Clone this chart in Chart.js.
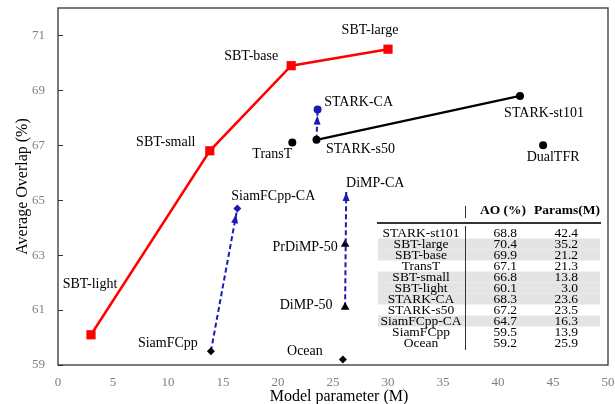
<!DOCTYPE html>
<html>
<head>
<meta charset="utf-8">
<script src="https://cdn.jsdelivr.net/npm/chart.js@4"></script>
<style>
    html, body { margin: 0; padding: 0; background: #fff; }
</style>
</head>
<body>
<canvas id="myChart" width="615" height="404"></canvas>
<script>
// values
var sbtNames = ['SBT-light', 'SBT-small', 'SBT-base', 'SBT-large'];
var sbtParams = [3.0, 13.8, 21.2, 30.0];
var sbtAO = [60.1, 66.8, 69.9, 70.5];

var starkNames = ['STARK-s50', 'STARK-st101'];
var starkParams = [23.5, 42.0];
var starkAO = [67.2, 68.8];

var starkCaNames = ['', 'STARK-CA'];
var starkCaParams = [23.5, 23.6];
var starkCaAO = [67.2, 68.3];

var siamNames = ['SiamFCpp', 'SiamFCpp-CA'];
var siamParams = [13.9, 16.3];
var siamAO = [59.5, 64.7];

var dimpNames = ['DiMP-50', 'DiMP-CA'];
var dimpParams = [26.1, 26.2];
var dimpAO = [61.1, 65.3];

var otherNames = ['TransT', 'DualTFR', 'PrDiMP-50', 'Ocean'];
var otherParams = [21.3, 44.1, 26.1, 25.9];
var otherAO = [67.1, 67.0, 63.4, 59.2];

var xTicks = [0, 5, 10, 15, 20, 25, 30, 35, 40, 45, 50];
var yTicks = [59, 61, 63, 65, 67, 69, 71];

var tableNames = ['STARK-st101', 'SBT-large', 'SBT-base', 'TransT', 'SBT-small', 'SBT-light',
    'STARK-CA', 'STARK-s50', 'SiamFCpp-CA', 'SiamFCpp', 'Ocean'];
var tableAO = ['68.8', '70.4', '69.9', '67.1', '66.8', '60.1', '68.3', '67.2', '64.7', '59.5', '59.2'];
var tableParams = ['42.4', '35.2', '21.2', '21.3', '13.8', '3.0', '23.6', '23.5', '16.3', '13.9', '25.9'];
var tableShaded = [false, true, true, false, true, true, true, false, true, false, false];

var RED = '#ff0000';
var BLUE = '#1a1ab4';
var BLACK = '#000000';
var SERIF = "'Liberation Serif', 'Times New Roman', serif";

function pts(xs, ys) {
    return xs.map(function(x, i) { return {x: x, y: ys[i]}; });
}

// label offsets (px) from each point, per dataset
var labelOffsets = {
    0: [[-1, -50], [-44, -8], [-40, -9], [-18, -19]],
    1: [[44, 10], [24, 17]],
    2: [null, [41, -7]],
    3: [[-43, -8], [36, -12]],
    4: [[-39, -2], [29, -9]],
    5: [[-20, 12], [10, 12], [-40, 3], [-38, -8]]
};

function noPad(s) {
    s.paddingTop = 0;
    s.paddingBottom = 0;
    s.paddingLeft = 0;
    s.paddingRight = 0;
}

var extras = {
    id: 'extras',
    afterDatasetsDraw: function(chart) {
        var c = chart.ctx;
        var a = chart.chartArea;
        var ys = chart.scales.y;

        // arrow heads
        chart.data.datasets.forEach(function(ds, i) {
            if (ds.arrowGap === undefined) return;
            var m = chart.getDatasetMeta(i).data;
            var p0 = m[m.length - 2], p1 = m[m.length - 1];
            var ang = Math.atan2(p1.y - p0.y, p1.x - p0.x);
            var tx = p1.x - Math.cos(ang) * ds.arrowGap;
            var ty = p1.y - Math.sin(ang) * ds.arrowGap;
            var len = 9, hw = 3.5;
            c.save();
            c.fillStyle = BLUE;
            c.beginPath();
            c.moveTo(tx, ty);
            c.lineTo(tx - Math.cos(ang) * len - Math.sin(ang) * hw, ty - Math.sin(ang) * len + Math.cos(ang) * hw);
            c.lineTo(tx - Math.cos(ang) * len + Math.sin(ang) * hw, ty - Math.sin(ang) * len - Math.cos(ang) * hw);
            c.closePath();
            c.fill();
            c.restore();
        });

        // point labels
        c.save();
        c.fillStyle = BLACK;
        c.font = '14px ' + SERIF;
        c.textAlign = 'center';
        c.textBaseline = 'middle';
        chart.data.datasets.forEach(function(ds, i) {
            var m = chart.getDatasetMeta(i).data;
            ds.names.forEach(function(n, j) {
                var off = labelOffsets[i][j];
                if (!n || !off) return;
                c.fillText(n, m[j].x + off[0], m[j].y + off[1]);
            });
        });
        c.restore();

        // frame and inner y ticks
        c.save();
        c.strokeStyle = '#333';
        c.lineWidth = 1.3;
        c.strokeRect(a.left, a.top, a.right - a.left, a.bottom - a.top);
        c.lineWidth = 1;
        yTicks.forEach(function(v) {
            var y = Math.round(ys.getPixelForValue(v)) + 0.5;
            c.beginPath();
            c.moveTo(a.left, y);
            c.lineTo(a.left + 5, y);
            c.stroke();
        });
        c.restore();

        // axis titles
        c.save();
        c.fillStyle = BLACK;
        c.font = '16px ' + SERIF;
        c.textAlign = 'center';
        c.textBaseline = 'alphabetic';
        c.fillText('Model parameter (M)', 339, 401);
        c.translate(27, (a.top + a.bottom) / 2);
        c.rotate(-Math.PI / 2);
        c.fillText('Average Overlap (%)', 0, 0);
        c.restore();

        // inset table
        var rowH = 11, top = 233;
        c.save();
        c.fillStyle = '#e4e4e4';
        tableShaded.forEach(function(s, i) {
            if (s) c.fillRect(378, top + i * rowH - rowH / 2, 222, rowH);
        });
        c.strokeStyle = '#333';
        c.lineWidth = 2;
        c.beginPath();
        c.moveTo(377, 223);
        c.lineTo(601, 223);
        c.stroke();
        c.lineWidth = 1;
        c.beginPath();
        c.moveTo(465.5, 206);
        c.lineTo(465.5, 218);
        c.moveTo(465.5, 226);
        c.lineTo(465.5, 350);
        c.stroke();
        c.fillStyle = BLACK;
        c.textBaseline = 'middle';
        c.font = 'bold 13.5px ' + SERIF;
        c.textAlign = 'center';
        c.fillText('AO (%)', 503, 211);
        c.fillText('Params(M)', 567, 211);
        c.font = '13.5px ' + SERIF;
        tableNames.forEach(function(n, i) {
            var y = top + i * rowH;
            c.textAlign = 'center';
            c.fillText(n, 421, y);
            c.textAlign = 'right';
            c.fillText(tableAO[i], 517, y);
            c.fillText(tableParams[i], 578, y);
        });
        c.restore();
    }
};

var ctx = document.getElementById('myChart').getContext('2d');
var myChart = new Chart(ctx, {
    type: 'scatter',
    data: {
        datasets: [{
            names: sbtNames,
            data: pts(sbtParams, sbtAO),
            showLine: true,
            borderColor: RED,
            backgroundColor: RED,
            borderWidth: 2.5,
            pointStyle: 'rect',
            pointRadius: 6.5,
            pointBorderWidth: 0
        }, {
            names: starkNames,
            data: pts(starkParams, starkAO),
            showLine: true,
            borderColor: BLACK,
            backgroundColor: BLACK,
            borderWidth: 2.2,
            pointStyle: 'circle',
            pointRadius: 4,
            pointBorderWidth: 0
        }, {
            names: starkCaNames,
            data: pts(starkCaParams, starkCaAO),
            showLine: true,
            borderColor: BLUE,
            backgroundColor: BLUE,
            borderWidth: 2,
            borderDash: [5, 3],
            pointStyle: 'circle',
            pointRadius: [0, 4],
            pointBorderWidth: 0,
            arrowGap: 6
        }, {
            names: siamNames,
            data: pts(siamParams, siamAO),
            showLine: true,
            borderColor: BLUE,
            backgroundColor: [BLACK, BLUE],
            borderWidth: 2,
            borderDash: [5, 3],
            pointStyle: 'rectRot',
            pointRadius: 4,
            pointBorderWidth: 0,
            arrowGap: 6
        }, {
            names: dimpNames,
            data: pts(dimpParams, dimpAO),
            showLine: true,
            borderColor: BLUE,
            backgroundColor: BLACK,
            borderWidth: 2,
            borderDash: [5, 3],
            pointStyle: 'triangle',
            pointRadius: [5, 0],
            pointBorderWidth: 0,
            arrowGap: 0
        }, {
            names: otherNames,
            data: pts(otherParams, otherAO),
            showLine: false,
            borderColor: BLACK,
            backgroundColor: BLACK,
            pointStyle: ['circle', 'circle', 'triangle', 'rectRot'],
            pointRadius: [4, 4, 5, 4],
            pointBorderWidth: 0
        }]
    },
    options: {
        responsive: false,
        animation: false,
        events: [],
        layout: { padding: { top: 8, right: 7, left: 0, bottom: 0 } },
        plugins: {
            legend: { display: false },
            tooltip: { enabled: false }
        },
        scales: {
            x: {
                type: 'linear',
                min: 0,
                max: 50,
                afterBuildTicks: function(s) { s.ticks = xTicks.map(function(v) { return {value: v}; }); },
                afterFit: function(s) { s.height = 39; noPad(s); },
                grid: { display: false, drawTicks: false },
                border: { display: false },
                ticks: {
                    color: '#808080',
                    padding: 10,
                    maxRotation: 0,
                    font: { family: SERIF, size: 13 }
                }
            },
            y: {
                type: 'linear',
                min: 59,
                max: 72,
                afterBuildTicks: function(s) { s.ticks = yTicks.map(function(v) { return {value: v}; }); },
                afterFit: function(s) { s.width = 58; noPad(s); },
                grid: { display: false, drawTicks: false },
                border: { display: false },
                ticks: {
                    color: '#808080',
                    padding: 13,
                    font: { family: SERIF, size: 13 }
                }
            }
        }
    },
    plugins: [extras]
});
</script>
</body>
</html>
